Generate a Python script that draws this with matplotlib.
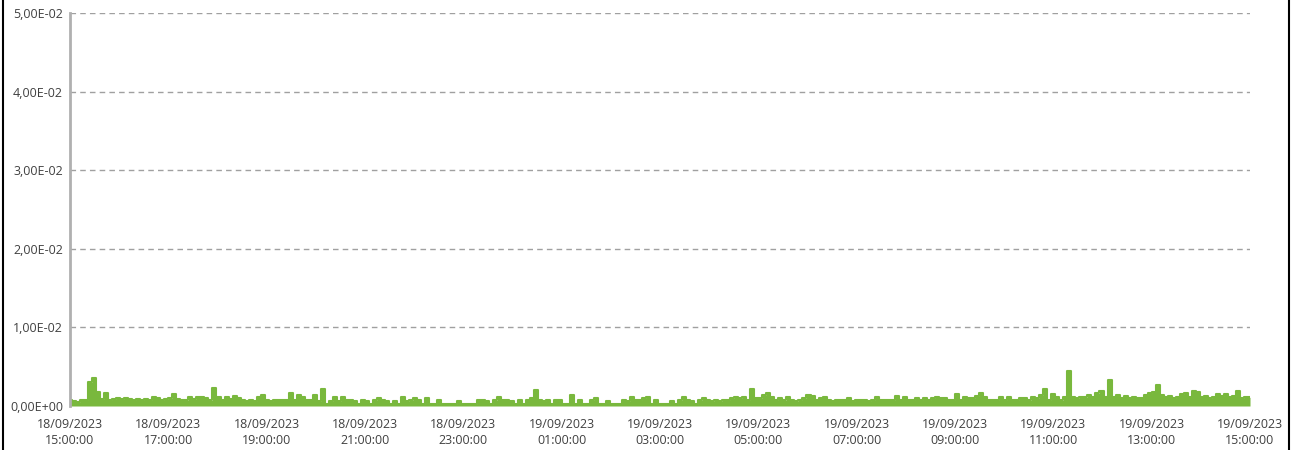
import numpy as np
import pandas as pd
import matplotlib
matplotlib.use("Agg")
from matplotlib import pyplot as plt
from matplotlib.lines import Line2D

# values in units of 1e-4, roughly 5 minute steps from 18/09 15:00 to 19/09 15:00
vals_a = [7, 6, 5, 7, 8, 30, 36, 18, 9, 17, 8, 9, 10, 9, 10, 9, 8, 9, 8, 9, 8, 12, 10, 8,
          9, 10, 15, 9, 8, 7, 11, 9, 11, 12, 10, 7, 23, 12, 7, 11, 9, 13, 10, 7, 6, 7, 6, 12]
vals_b = [14, 7, 6, 7, 8, 8, 8, 17, 8, 14, 12, 7, 8, 14, 6, 22, 3, 6, 11, 6, 11, 7, 8, 6, 3,
          7, 6, 3, 7, 10, 8, 6, 3, 6, 3, 12, 6, 7, 10, 7, 3, 10, 3, 3, 7, 3, 3, 3, 3, 6]
vals_c = [3, 3, 3, 3, 8, 7, 6, 3, 7, 12, 8, 7, 6, 3, 7, 3, 8, 10, 20, 8, 6, 7, 3, 8, 7,
          3, 3, 14, 3, 8, 3, 3, 7, 10, 3, 3, 6, 3, 3, 3, 7, 6, 12, 7, 8, 10, 11, 3, 7, 3]
vals_d = [3, 3, 6, 3, 7, 12, 7, 6, 3, 7, 10, 8, 6, 7, 6, 8, 8, 10, 11, 10, 12, 8, 21, 10, 10,
          14, 17, 12, 8, 10, 7, 12, 7, 6, 8, 10, 14, 13, 7, 10, 11, 8, 6, 8, 8, 8, 10, 6, 8, 8]
vals_e = [7, 6, 7, 11, 8, 7, 8, 7, 13, 8, 12, 7, 8, 10, 8, 10, 8, 10, 12, 10, 10, 8, 8, 15, 8,
          11, 10, 10, 13, 17, 12, 8, 8, 8, 12, 8, 12, 8, 8, 10, 10, 7, 11, 10, 14, 22, 8, 15, 12, 7]
vals_f = [12, 44, 12, 10, 12, 11, 14, 12, 16, 19, 12, 33, 12, 14, 10, 13, 10, 11, 10, 10,
          14, 16, 18, 27, 14, 12, 13, 10, 12, 15, 16, 12, 19, 18, 12, 13, 10, 12, 15, 13,
          15, 12, 13, 19, 10, 11, 11]

values = np.array(vals_a + vals_b + vals_c + vals_d + vals_e + vals_f) * 1e-4
t_start = pd.Timestamp("2023-09-18 15:00")
t_end = pd.Timestamp("2023-09-19 15:00")
times = pd.date_range(t_start, t_end, periods=len(values))

yticks = [0, 0.01, 0.02, 0.03, 0.04, 0.05]
ylabels = ["0,00E+00", "1,00E-02", "2,00E-02", "3,00E-02", "4,00E-02", "5,00E-02"]
xticks = pd.date_range(t_start, t_end, freq="2h")

plt.rcParams['font.family'] = ['Open Sans', 'DejaVu Sans']

fig = plt.figure(figsize=(12.93, 4.5), dpi=100)
ax = fig.add_axes([70 / 1293, 44 / 450, 1180 / 1293, 393 / 450])

green = '#79B83D'
ax.fill_between(times, values, 0, step='mid', color=green, lw=0)
ax.step(times, values, where='mid', color=green, lw=1.5)

ax.set_xlim(t_start, t_end)
ax.set_ylim(0, 0.05)
ax.set_yticks(yticks)
ax.set_yticklabels(ylabels)
ax.set_xticks(xticks)
ax.set_xticklabels([t.strftime("%d/%m/%Y\n%H:%M:%S") for t in xticks])
ax.tick_params(axis='both', length=0, labelsize=9, colors='#404040')
ax.tick_params(axis='x', pad=9)
ax.tick_params(axis='y', pad=5)
for lbl in ax.get_xticklabels():
    lbl.set_linespacing(1.25)

for y in yticks[1:]:
    ax.axhline(y, color='#A0A0A0', lw=1, ls=(0, (4, 3)), zorder=0)

for s in ['top', 'right', 'bottom']:
    ax.spines[s].set_visible(False)
ax.spines['left'].set_color('#B0B0B0')
ax.spines['left'].set_linewidth(2)

# outer chart border, left and right edges
fig.add_artist(Line2D([3 / 1293, 3 / 1293], [0, 1], color='black', lw=1.5))
fig.add_artist(Line2D([1289 / 1293, 1289 / 1293], [0, 1], color='black', lw=1.5))

fig.savefig("out.png", dpi=100)
